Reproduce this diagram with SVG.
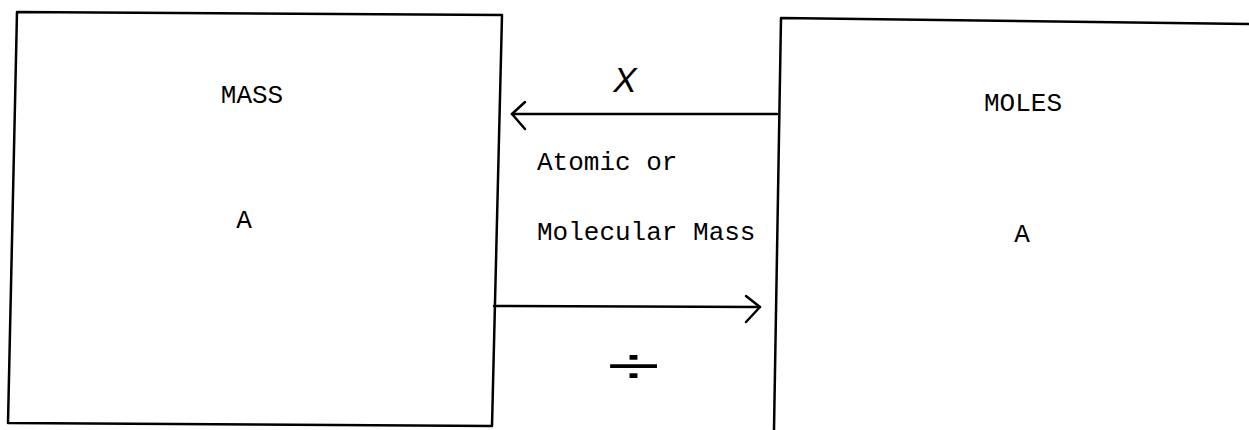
<svg xmlns="http://www.w3.org/2000/svg" width="1249" height="430" viewBox="0 0 1249 430">
<style>
.box{fill:none;stroke:#000;stroke-width:2.5;stroke-linejoin:round}
.conn{fill:none;stroke:#000;stroke-width:2.5;stroke-linecap:round;stroke-linejoin:round}
.tw{font-family:"Liberation Mono","Courier New",monospace;font-size:26px;fill:#000}
.hand{font-family:"Liberation Sans",Arial,sans-serif;fill:#000}
</style>
<rect width="1249" height="430" fill="#fff"/>
<g id="mass">
<path class="box" d="M17,12 L502,15 L492,426 L8,423 Z"/>
<text class="tw" x="252" y="103" text-anchor="middle">MASS</text>
<text class="tw" x="244" y="228" text-anchor="middle">A</text>
</g>
<g id="moles">
<path class="box" d="M1249,24 L781,18 L774,430"/>
<text class="tw" x="1023" y="111" text-anchor="middle">MOLES</text>
<text class="tw" x="1022" y="242" text-anchor="middle">A</text>
</g>
<g id="connectors">
<path class="conn" d="M777,114 L512,114"/>
<path class="conn" d="M525,102 L512,114 L525,129"/>
<path class="conn" d="M494,306 L760,307"/>
<path class="conn" d="M746,296 L760,307 L746,322"/>
</g>
<g id="labels">
<text class="hand" x="625" y="92" text-anchor="middle" font-size="35" font-style="italic">X</text>
<text class="tw" x="537" y="170">Atomic or</text>
<text class="tw" x="537" y="240">Molecular Mass</text>
<text class="hand" x="607" y="384" font-size="52" textLength="53" lengthAdjust="spacingAndGlyphs">÷</text>
</g>
</svg>
